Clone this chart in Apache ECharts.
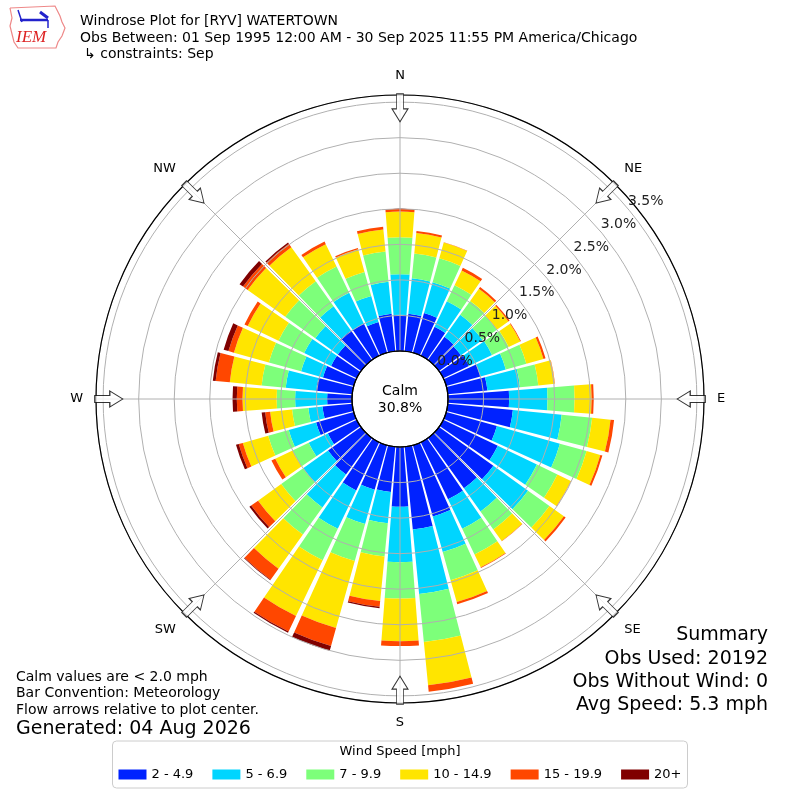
<!DOCTYPE html>
<html>
<head>
<meta charset="utf-8">
<script src="https://cdn.jsdelivr.net/npm/echarts@6/dist/echarts.min.js"></script>
<style>
html,body{margin:0;padding:0;background:#fff;}
#chart{width:800px;height:800px;}
</style>
</head>
<body>
<div id="chart"></div>
<script>
// Directions (degrees, meteorological, bar centers)
const directions = [0,10,20,30,40,50,60,70,80,90,100,110,120,130,140,150,160,170,180,190,200,210,220,230,240,250,260,270,280,290,300,310,320,330,340,350];
// Speed bins
const speedBins = ['2 - 4.9','5 - 6.9','7 - 9.9','10 - 14.9','15 - 19.9','20+'];
const binColors = ['#0022ff','#00d5ff','#7dff7a','#ffe500','#ff4700','#800000'];
// Frequency (%) per direction for each speed bin
const bin1 = [0.51,0.53,0.58,0.45,0.40,0.38,0.40,0.50,0.56,0.86,0.92,0.74,0.85,0.94,0.87,0.89,1.04,1.17,0.84,0.64,0.65,0.75,0.63,0.57,0.45,0.55,0.42,0.35,0.51,0.45,0.40,0.40,0.51,0.50,0.45,0.53];
const bin2 = [0.57,0.50,0.45,0.40,0.38,0.37,0.36,0.37,0.46,0.54,0.69,0.92,0.61,0.60,0.40,0.46,0.52,0.91,0.78,0.44,0.50,0.60,0.57,0.43,0.30,0.40,0.20,0.45,0.43,0.32,0.42,0.39,0.42,0.48,0.38,0.45];
const bin3 = [0.52,0.35,0.35,0.25,0.24,0.25,0.26,0.30,0.26,0.38,0.43,0.39,0.32,0.37,0.31,0.40,0.41,0.68,0.51,0.47,0.54,0.49,0.47,0.38,0.25,0.30,0.23,0.26,0.34,0.47,0.40,0.52,0.43,0.41,0.35,0.43];
const bin4 = [0.36,0.29,0.23,0.23,0.21,0.20,0.18,0.25,0.23,0.24,0.26,0.20,0.21,0.25,0.20,0.20,0.32,0.61,0.60,0.63,0.98,0.87,0.59,0.40,0.27,0.37,0.31,0.48,0.45,0.51,0.48,0.65,0.59,0.35,0.33,0.31];
const bin5 = [0.04,0.03,0.005,0.04,0.03,0.02,0.01,0.03,0.005,0.03,0.05,0.03,0.005,0.03,0.005,0.01,0.03,0.09,0.07,0.08,0.26,0.24,0.19,0.12,0.06,0.06,0.07,0.08,0.20,0.08,0.05,0.08,0.06,0.04,0.02,0.04];
const bin6 = [0,0,0,0,0,0,0,0,0,0,0,0,0,0,0,0,0,0,0,0.02,0.07,0.02,0.01,0.03,0,0.04,0.05,0.06,0.04,0.07,0,0.06,0.02,0,0,0];
const binValues = [bin1,bin2,bin3,bin4,bin5,bin6];
// Radial ticks
const radialMax = 3.6;
const radialStep = 0.5;
// Compass
const compassAngles = [0,45,90,135,180,225,270,315];
const compassNames = ['N','NE','E','SE','S','SW','W','NW'];
const arrowRadius = 3.42;
const calmPct = '30.8%';

const FONT = 'DejaVu Sans';
const chart = echarts.init(document.getElementById('chart'), null, {renderer:'canvas'});

const center = [400, 399];
const barSeries = speedBins.map((name, i) => ({
  name: name,
  type: 'bar',
  coordinateSystem: 'polar',
  polarIndex: 0,
  stack: 'wind',
  data: binValues[i],
  barCategoryGap: '12%',
  itemStyle: {color: binColors[i]},
  emphasis: {disabled: true},
  z: 2
}));

const arrowPath = 'path://M4.5,0 L11.5,0 L11.5,15 L16,15 L8,28 L0,15 L4.5,15 Z';

const option = {
  animation: false,
  textStyle: {fontFamily: FONT},
  polar: [
    {center: center, radius: [48, 304]},
    {center: center, radius: [48, 304]},
    {center: center, radius: [80, 336]},
    {center: center, radius: [0, 48]}
  ],
  angleAxis: [
    {polarIndex: 0, type: 'category', data: directions, startAngle: 95, clockwise: true,
     boundaryGap: true, axisLine:{show:false}, axisTick:{show:false}, axisLabel:{show:false}, splitLine:{show:false}},
    {polarIndex: 1, type: 'value', min: 0, max: 360, interval: 45, startAngle: 90, clockwise: true, z: 3,
     axisLine:{show:true, lineStyle:{color:'#000', width:1.2}},
     axisTick:{show:false},
     splitLine:{show:true, lineStyle:{color:'#b0b0b0', width:1}},
     axisLabel:{show:true, margin: 13, color:'#000', fontSize: 13, fontFamily: FONT,
       formatter: v => compassNames[Math.round(v/45) % 8]}},
    {polarIndex: 2, type: 'value', min: 0, max: 360, startAngle: 40, clockwise: true, show: false},
    {polarIndex: 3, type: 'value', min: 0, max: 360, startAngle: 90, clockwise: true, z: 4,
     axisLine:{show:true, lineStyle:{color:'#000', width:1.2}},
     axisTick:{show:false}, axisLabel:{show:false}, splitLine:{show:false}}
  ],
  radiusAxis: [
    {polarIndex: 0, type: 'value', min: 0, max: radialMax, interval: radialStep, z: 3,
     axisLine:{show:false}, axisTick:{show:false}, axisLabel:{show:false},
     splitLine:{show:true, lineStyle:{color:'#b0b0b0', width:1}}},
    {polarIndex: 1, type: 'value', min: 0, max: radialMax, show: false},
    {polarIndex: 2, type: 'value', min: 0, max: radialMax, interval: radialStep, z: 10,
     axisLine:{show:false}, axisTick:{show:false}, splitLine:{show:false},
     axisLabel:{show:true, margin: -18, color:'#222', fontSize: 14, fontFamily: FONT, showMaxLabel: false,
       formatter: v => v.toFixed(1) + '%'}},
    {polarIndex: 3, type: 'value', min: 0, max: 1, show: false}
  ],
  legend: {
    data: speedBins,
    left: 'center',
    top: 741,
    icon: 'rect',
    itemWidth: 28,
    itemHeight: 10,
    itemGap: 19,
    padding: [27, 6, 7, 6],
    borderColor: '#cccccc',
    borderWidth: 1,
    borderRadius: 4,
    selectedMode: false,
    textStyle: {fontSize: 13, fontFamily: FONT, color: '#000'}
  },
  series: barSeries.concat([{
    type: 'scatter',
    coordinateSystem: 'polar',
    polarIndex: 1,
    symbol: arrowPath,
    symbolSize: [16, 28],
    silent: true,
    z: 6,
    itemStyle: {color: '#ffffff', borderColor: '#000', borderWidth: 1},
    data: compassAngles.map(a => ({value: [arrowRadius, a], symbolRotate: -a}))
  }]),
  graphic: [
    // logo
    {type:'polyline', shape:{points:[[10,8],[55,6],[58,12],[60,16],[62,22],[65,28],[62,36],[58,42],[56,48],[18,48],[14,42],[12,34],[10,26],[12,18],[10,8]]},
     style:{stroke:'#e88', fill:'none', lineWidth:1.2}},
    {type:'text', left:16, top:29, style:{text:'IEM', font:'italic 17px "Liberation Serif"', fill:'#d22'}},
    {type:'line', shape:{x1:20,y1:20,x2:48,y2:20}, style:{stroke:'#22c', lineWidth:2.5}},
    {type:'line', shape:{x1:18,y1:10,x2:22,y2:22}, style:{stroke:'#22c', lineWidth:1.5}},
    {type:'line', shape:{x1:40,y1:12,x2:48,y2:18}, style:{stroke:'#22c', lineWidth:3}},
    {type:'line', shape:{x1:48,y1:20,x2:48,y2:28}, style:{stroke:'#22c', lineWidth:1.5}},
    // title
    {type:'text', left:80, top:14, style:{text:'Windrose Plot for [RYV] WATERTOWN', font:'14px "DejaVu Sans"', fill:'#000'}},
    {type:'text', left:80, top:31, style:{text:'Obs Between: 01 Sep 1995 12:00 AM - 30 Sep 2025 11:55 PM America/Chicago', font:'14px "DejaVu Sans"', fill:'#000'}},
    {type:'text', left:84, top:47, style:{text:'\u21B3 constraints: Sep', font:'14px "DejaVu Sans"', fill:'#000'}},
    // calm
    {type:'text', x:400, y:391, style:{text:'Calm', font:'14px "DejaVu Sans"', fill:'#000', textAlign:'center', textVerticalAlign:'middle'}, z:10},
    {type:'text', x:400, y:408, style:{text:calmPct, font:'14px "DejaVu Sans"', fill:'#000', textAlign:'center', textVerticalAlign:'middle'}, z:10},
    // bottom left
    {type:'text', x:16, y:677, style:{text:'Calm values are < 2.0 mph', font:'14px "DejaVu Sans"', fill:'#000', textVerticalAlign:'middle'}},
    {type:'text', x:16, y:693, style:{text:'Bar Convention: Meteorology', font:'14px "DejaVu Sans"', fill:'#000', textVerticalAlign:'middle'}},
    {type:'text', x:16, y:710, style:{text:'Flow arrows relative to plot center.', font:'14px "DejaVu Sans"', fill:'#000', textVerticalAlign:'middle'}},
    {type:'text', x:16, y:729, style:{text:'Generated: 04 Aug 2026', font:'19px "DejaVu Sans"', fill:'#000', textVerticalAlign:'middle'}},
    // summary
    {type:'text', x:768, y:635, style:{text:'Summary', font:'19px "DejaVu Sans"', fill:'#000', textAlign:'right', textVerticalAlign:'middle'}},
    {type:'text', x:768, y:659, style:{text:'Obs Used: 20192', font:'19px "DejaVu Sans"', fill:'#000', textAlign:'right', textVerticalAlign:'middle'}},
    {type:'text', x:768, y:682, style:{text:'Obs Without Wind: 0', font:'19px "DejaVu Sans"', fill:'#000', textAlign:'right', textVerticalAlign:'middle'}},
    {type:'text', x:768, y:705, style:{text:'Avg Speed: 5.3 mph', font:'19px "DejaVu Sans"', fill:'#000', textAlign:'right', textVerticalAlign:'middle'}},
    // legend title
    {type:'text', x:400, y:752, style:{text:'Wind Speed [mph]', font:'13px "DejaVu Sans"', fill:'#000', textAlign:'center', textVerticalAlign:'middle'}, z:10}
  ]
};
chart.setOption(option);
</script>
</body>
</html>
